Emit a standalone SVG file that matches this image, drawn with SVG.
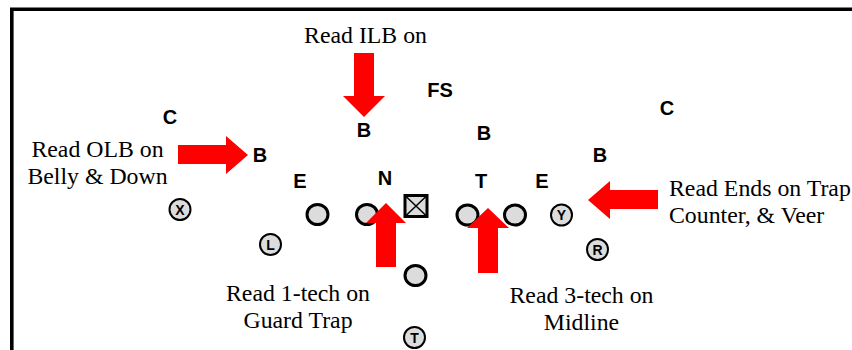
<svg xmlns="http://www.w3.org/2000/svg" width="852" height="350" viewBox="0 0 852 350">
<style>
.pos{font-family:"Liberation Sans",Arial,sans-serif;font-weight:bold;font-size:20px;fill:#000;text-anchor:middle}
.lbl{font-family:"Liberation Serif","Times New Roman",serif;font-size:23.8px;fill:#000}
.mid{text-anchor:middle}
.ol{fill:#dcdcdc;stroke:#000;stroke-width:3}
.sk{fill:#dcdcdc;stroke:#000;stroke-width:2}
.skt{font-family:"Liberation Sans",Arial,sans-serif;font-weight:bold;font-size:14px;fill:#000;text-anchor:middle}
.arr{fill:#ff0000}
</style>
<rect width="852" height="350" fill="#fff"/>
<path d="M11.8,350 V9.3 H852" fill="none" stroke="#000" stroke-width="3.6"/>

<g id="defense">
<text class="pos" x="170" y="124">C</text>
<text class="pos" x="667" y="115">C</text>
<text class="pos" x="440" y="97">FS</text>
<text class="pos" x="364" y="137">B</text>
<text class="pos" x="484" y="140">B</text>
<text class="pos" x="260" y="162">B</text>
<text class="pos" x="600" y="162">B</text>
<text class="pos" x="300" y="188">E</text>
<text class="pos" x="385" y="185">N</text>
<text class="pos" x="481" y="188">T</text>
<text class="pos" x="542" y="188">E</text>
</g>

<g id="offense">
<g id="lt"><ellipse class="ol" cx="317.5" cy="214.5" rx="10.5" ry="10"/></g>
<g id="lg"><ellipse class="ol" cx="367" cy="214.5" rx="10.5" ry="10"/></g>
<g id="center"><rect class="ol" x="405" y="195.5" width="22" height="21"/><path d="M405,195.5 L427,216.5 M427,195.5 L405,216.5" stroke="#000" stroke-width="1.5"/></g>
<g id="rg"><ellipse class="ol" cx="467.5" cy="215" rx="10.5" ry="10"/></g>
<g id="rt"><ellipse class="ol" cx="515" cy="215" rx="10.5" ry="10"/></g>
<g id="qb"><ellipse class="ol" cx="415.5" cy="275.5" rx="10.5" ry="10"/></g>
<g id="x"><circle class="sk" cx="180" cy="209.5" r="10.5"/><text class="skt" x="180" y="214.5">X</text></g>
<g id="l"><circle class="sk" cx="270.5" cy="244.5" r="10.5"/><text class="skt" x="270.5" y="249.5">L</text></g>
<g id="y"><circle class="sk" cx="561.5" cy="215" r="10.5"/><text class="skt" x="561.5" y="220">Y</text></g>
<g id="r"><circle class="sk" cx="597.5" cy="249.5" r="10.5"/><text class="skt" x="597.5" y="254.5">R</text></g>
<g id="t"><circle class="sk" cx="414.5" cy="337.5" r="10.5"/><text class="skt" x="414.5" y="342.5">T</text></g>
</g>

<g id="arrows">
<path class="arr" d="M354,53 H374 V96 H385 L364,117 L343,96 H354 Z"/>
<path class="arr" d="M178,145 H226 V136 L248,155 L226,174 V164 H178 Z"/>
<path class="arr" d="M658,190 H610 V181 L588,200 L610,219 V209 H658 Z"/>
<path class="arr" d="M376,267 V223 H366 L386,203 L406,223 H396 V267 Z"/>
<path class="arr" d="M478,273 V228 H467 L488,208 L509,228 H498 V273 Z"/>
</g>

<g id="labels">
<text class="lbl mid" x="365.5" y="43">Read ILB on</text>
<text class="lbl mid" x="97.5" y="157">Read OLB on</text>
<text class="lbl mid" x="97.5" y="184">Belly &amp; Down</text>
<text class="lbl" x="669" y="196">Read Ends on Trap</text>
<text class="lbl" x="669" y="223">Counter, &amp; Veer</text>
<text class="lbl mid" x="298" y="301">Read 1-tech on</text>
<text class="lbl mid" x="298" y="328">Guard Trap</text>
<text class="lbl mid" x="581.5" y="303">Read 3-tech on</text>
<text class="lbl mid" x="581.5" y="330">Midline</text>
</g>
</svg>
